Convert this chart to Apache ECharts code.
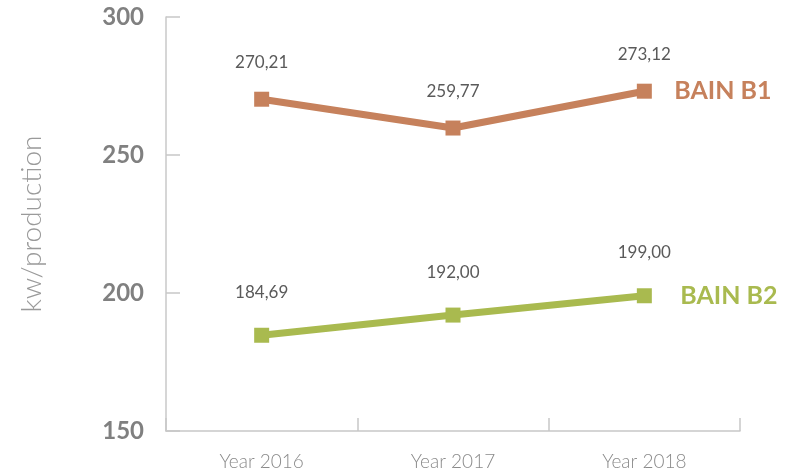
<!DOCTYPE html>
<html>
<head>
<meta charset="utf-8">
<script src="https://cdn.jsdelivr.net/npm/echarts@6/dist/echarts.min.js"></script>
<style>
  html, body { margin: 0; padding: 0; background: #fff; }
  #chart { width: 789px; height: 472px; }
</style>
</head>
<body>
<div id="chart"></div>
<script>
// Energy consumption per production, by year
var years = ['Year 2016', 'Year 2017', 'Year 2018'];
var bainB1 = [270.21, 259.77, 273.12];
var bainB2 = [184.69, 192.00, 199.00];
var yTicks = [150, 200, 250, 300];

var colorB1 = '#C6815C';
var colorB2 = '#A9BA4F';

function commaDecimal(v) {
  return Number(v).toFixed(2).replace('.', ',');
}

function lineSeries(name, data, color, labelDist, endDist) {
  return {
    name: name,
    type: 'line',
    data: data,
    symbol: 'rect',
    symbolSize: 15,
    lineStyle: { width: 7, color: color },
    itemStyle: { color: color },
    label: {
      show: true,
      position: 'top',
      distance: labelDist,
      color: '#5a5a5a',
      fontFamily: 'Lato',
      fontSize: 17,
      formatter: function (p) { return commaDecimal(p.value); }
    },
    endLabel: {
      show: true,
      distance: endDist,
      color: color,
      fontFamily: 'Lato',
      fontWeight: 'bold',
      fontSize: 25,
      formatter: name
    },
    emphasis: { disabled: true },
    animation: false
  };
}

var chart = echarts.init(document.getElementById('chart'));
chart.setOption({
  animation: false,
  grid: { left: 166, right: 49, top: 17, bottom: 41 },
  xAxis: {
    type: 'category',
    data: years,
    boundaryGap: true,
    axisLine: { lineStyle: { color: '#c8c8c8', width: 1.5 } },
    axisTick: { show: true, inside: true, length: 13, lineStyle: { color: '#c8c8c8', width: 1.5 } },
    axisLabel: { color: '#8a8a8a', fontFamily: 'Lato', fontWeight: 300, fontSize: 19, margin: 21 },
    splitLine: { show: false }
  },
  yAxis: {
    type: 'value',
    min: yTicks[0],
    max: yTicks[yTicks.length - 1],
    interval: 50,
    name: 'kw/production',
    nameLocation: 'middle',
    nameGap: 120,
    nameTextStyle: { color: '#9a9a9a', fontFamily: 'Lato', fontSize: 28, fontWeight: 300 },
    axisLine: { show: true, lineStyle: { color: '#c8c8c8', width: 1.5 } },
    axisTick: { show: true, inside: true, length: 14, lineStyle: { color: '#c8c8c8', width: 1.5 } },
    axisLabel: { color: '#808080', fontFamily: 'Lato', fontWeight: 'bold', fontSize: 24, margin: 22 },
    splitLine: { show: false }
  },
  series: [
    lineSeries('BAIN B1', bainB1, colorB1, 21, 30),
    lineSeries('BAIN B2', bainB2, colorB2, 27, 36)
  ]
});
</script>
</body>
</html>
